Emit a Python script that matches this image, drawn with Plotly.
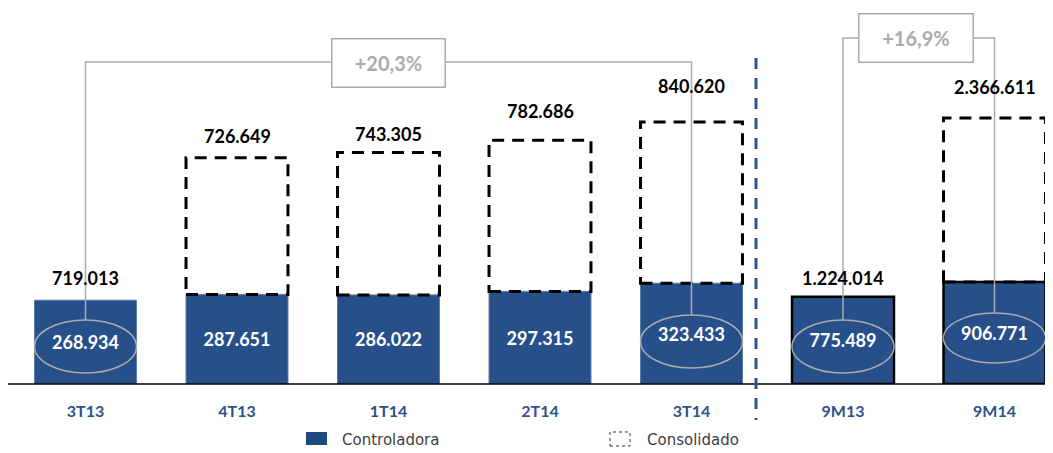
import plotly.graph_objects as go

# ---------------- data ----------------
categories = ["3T13", "4T13", "1T14", "2T14", "3T14", "9M13", "9M14"]
controladora = [268.934, 287.651, 286.022, 297.315, 323.433, 775.489, 906.771]
consolidado = [719.013, 726.649, 743.305, 782.686, 840.620, 1224.014, 2366.611]
growth_labels = ["+20,3%", "+16,9%"]

# ---------------- style ----------------
BLUE = "#27508A"
TICK_BLUE = "#2D5289"
GRAY = "#ABABAB"
FONT = "Lato"
OFF = 8                           # page body margin
W, H = 1053 - OFF, 453 - OFF
BASE = 384                        # baseline in reference (page) px
PLOT_H = BASE - OFF               # plot area height in figure px
Q_SCALE = 3.21                    # value per px (quarterly axis)
M_SCALE = 8.9                     # value per px (9M axis)
STEP = 151.5                      # px between categories
quarter_idx = [0, 1, 2, 3, 4]
nine_idx = [5, 6]
show_box = [False, True, True, True, True, False, True]
label_shift = [22, 22, 18, 29, 36, 19, 31]   # px above the top of the stack
BW = 0.673                        # bar width (category units)


def fmt_val(v):
    whole = int(round(v * 1000))
    return f"{whole:,}".replace(",", ".")


def py(px):
    """page px (y) -> paper"""
    return (BASE - px) / PLOT_H


def pxx(px):
    """page px (x) -> paper"""
    return (px - OFF) / W


fig = go.Figure()

fig.add_trace(go.Bar(
    x=[categories[i] for i in quarter_idx],
    y=[controladora[i] for i in quarter_idx],
    text=[fmt_val(controladora[i]) for i in quarter_idx],
    textposition="inside", insidetextanchor="middle",
    textfont=dict(family=FONT, size=18, color="white", weight="bold"),
    marker=dict(color=BLUE, line=dict(color="#5B7BA8", width=1)),
    width=BW, yaxis="y", showlegend=False, hoverinfo="skip",
))
fig.add_trace(go.Bar(
    x=[categories[i] for i in nine_idx],
    y=[controladora[i] for i in nine_idx],
    text=[fmt_val(controladora[i]) for i in nine_idx],
    textposition="inside", insidetextanchor="middle",
    textfont=dict(family=FONT, size=18, color="white", weight="bold"),
    marker=dict(color=BLUE, line=dict(color="black", width=2.5)),
    width=BW, yaxis="y2", showlegend=False, hoverinfo="skip",
))

shapes = []
annotations = []

# dashed "Consolidado" boxes + total labels
for i, cat in enumerate(categories):
    yref = "y" if i in quarter_idx else "y2"
    if show_box[i]:
        shapes.append(dict(type="rect", xref="x", yref=yref,
                           x0=i - BW / 2, x1=i + BW / 2,
                           y0=controladora[i], y1=consolidado[i],
                           line=dict(color="black", width=3, dash="12px,8px"),
                           fillcolor="rgba(0,0,0,0)", layer="above"))
        anchor = consolidado[i]
    else:
        anchor = controladora[i]
    annotations.append(dict(x=i, y=anchor, xref="x", yref=yref,
                            text=fmt_val(consolidado[i]), showarrow=False,
                            xanchor="center", yanchor="middle", yshift=label_shift[i],
                            font=dict(family=FONT, size=18, color="black", weight="bold")))

# baseline
shapes.append(dict(type="line", xref="paper", yref="paper",
                   x0=0, x1=1, y0=0, y1=0,
                   line=dict(color="black", width=1.5)))

# separator
shapes.append(dict(type="line", xref="paper", yref="paper",
                   x0=pxx(756), x1=pxx(756), y0=py(58), y1=py(420),
                   line=dict(color="#2B5590", width=3, dash="11px,9px")))

# ellipses (page px boxes)
for (i, y0p, y1p) in [(0, 320, 373), (4, 315, 368), (5, 320, 373), (6, 313, 363)]:
    shapes.append(dict(type="circle", xref="x", yref="paper",
                       x0=i - BW / 2, x1=i + BW / 2, y0=py(y1p), y1=py(y0p),
                       line=dict(color=GRAY, width=1.5), layer="above"))

# connector paths
shapes.append(dict(type="path", xref="x", yref="paper",
                   path=f"M 0,{py(320)} L 0,{py(62)} L 4,{py(62)} L 4,{py(315)}",
                   line=dict(color=GRAY, width=1.5), layer="above"))
shapes.append(dict(type="path", xref="x", yref="paper",
                   path=f"M 5,{py(320)} L 5,{py(38)} L 6,{py(38)} L 6,{py(313)}",
                   line=dict(color=GRAY, width=1.5), layer="above"))

annotations.append(dict(x=2, y=py(62.5), xref="x", yref="paper", text=growth_labels[0],
                        showarrow=False, bgcolor="white", bordercolor=GRAY, borderwidth=1.5,
                        xanchor="center", yanchor="middle",
                        width=110, height=45, font=dict(family=FONT, size=20, color=GRAY, weight="bold")))
annotations.append(dict(x=5.48, y=py(37.5), xref="x", yref="paper", text=growth_labels[1],
                        showarrow=False, bgcolor="white", bordercolor=GRAY, borderwidth=1.5,
                        xanchor="center", yanchor="middle",
                        width=111, height=45, font=dict(family=FONT, size=20, color=GRAY, weight="bold")))

# legend (manual)
shapes.append(dict(type="rect", xref="paper", yref="paper",
                   x0=pxx(306), x1=pxx(327), y0=py(445), y1=py(432),
                   fillcolor="#1F4A80", line=dict(width=0)))
shapes.append(dict(type="rect", xref="paper", yref="paper",
                   x0=pxx(610), x1=pxx(630), y0=py(446), y1=py(432),
                   fillcolor="rgba(0,0,0,0)", line=dict(color="#333333", width=1, dash="3px,3px")))
annotations.append(dict(x=pxx(340), y=py(440), xref="paper", yref="paper", text="Controladora",
                        showarrow=False, xanchor="left", yanchor="middle",
                        font=dict(family="DejaVu Sans", size=15, color="#404040")))
annotations.append(dict(x=pxx(645), y=py(440), xref="paper", yref="paper", text="Consolidado",
                        showarrow=False, xanchor="left", yanchor="middle",
                        font=dict(family="DejaVu Sans", size=15, color="#404040")))

x0 = -(85.5 - OFF) / STEP
fig.update_layout(
    width=W, height=H,
    margin=dict(l=0, r=0, t=0, b=H - PLOT_H, pad=0),
    paper_bgcolor="white", plot_bgcolor="white",
    barmode="overlay",
    xaxis=dict(type="category", categoryorder="array", categoryarray=categories,
               range=[x0, x0 + W / STEP], showgrid=False, zeroline=False, showline=False,
               ticks="outside", ticklen=13, tickcolor="rgba(0,0,0,0)",
               tickfont=dict(family=FONT, size=16, color=TICK_BLUE, weight="bold")),
    yaxis=dict(range=[0, PLOT_H * Q_SCALE], visible=False, showgrid=False),
    yaxis2=dict(range=[0, PLOT_H * M_SCALE], visible=False, showgrid=False,
                overlaying="y", side="right"),
    shapes=shapes, annotations=annotations,
    showlegend=False,
)

fig.write_html("out.html")
